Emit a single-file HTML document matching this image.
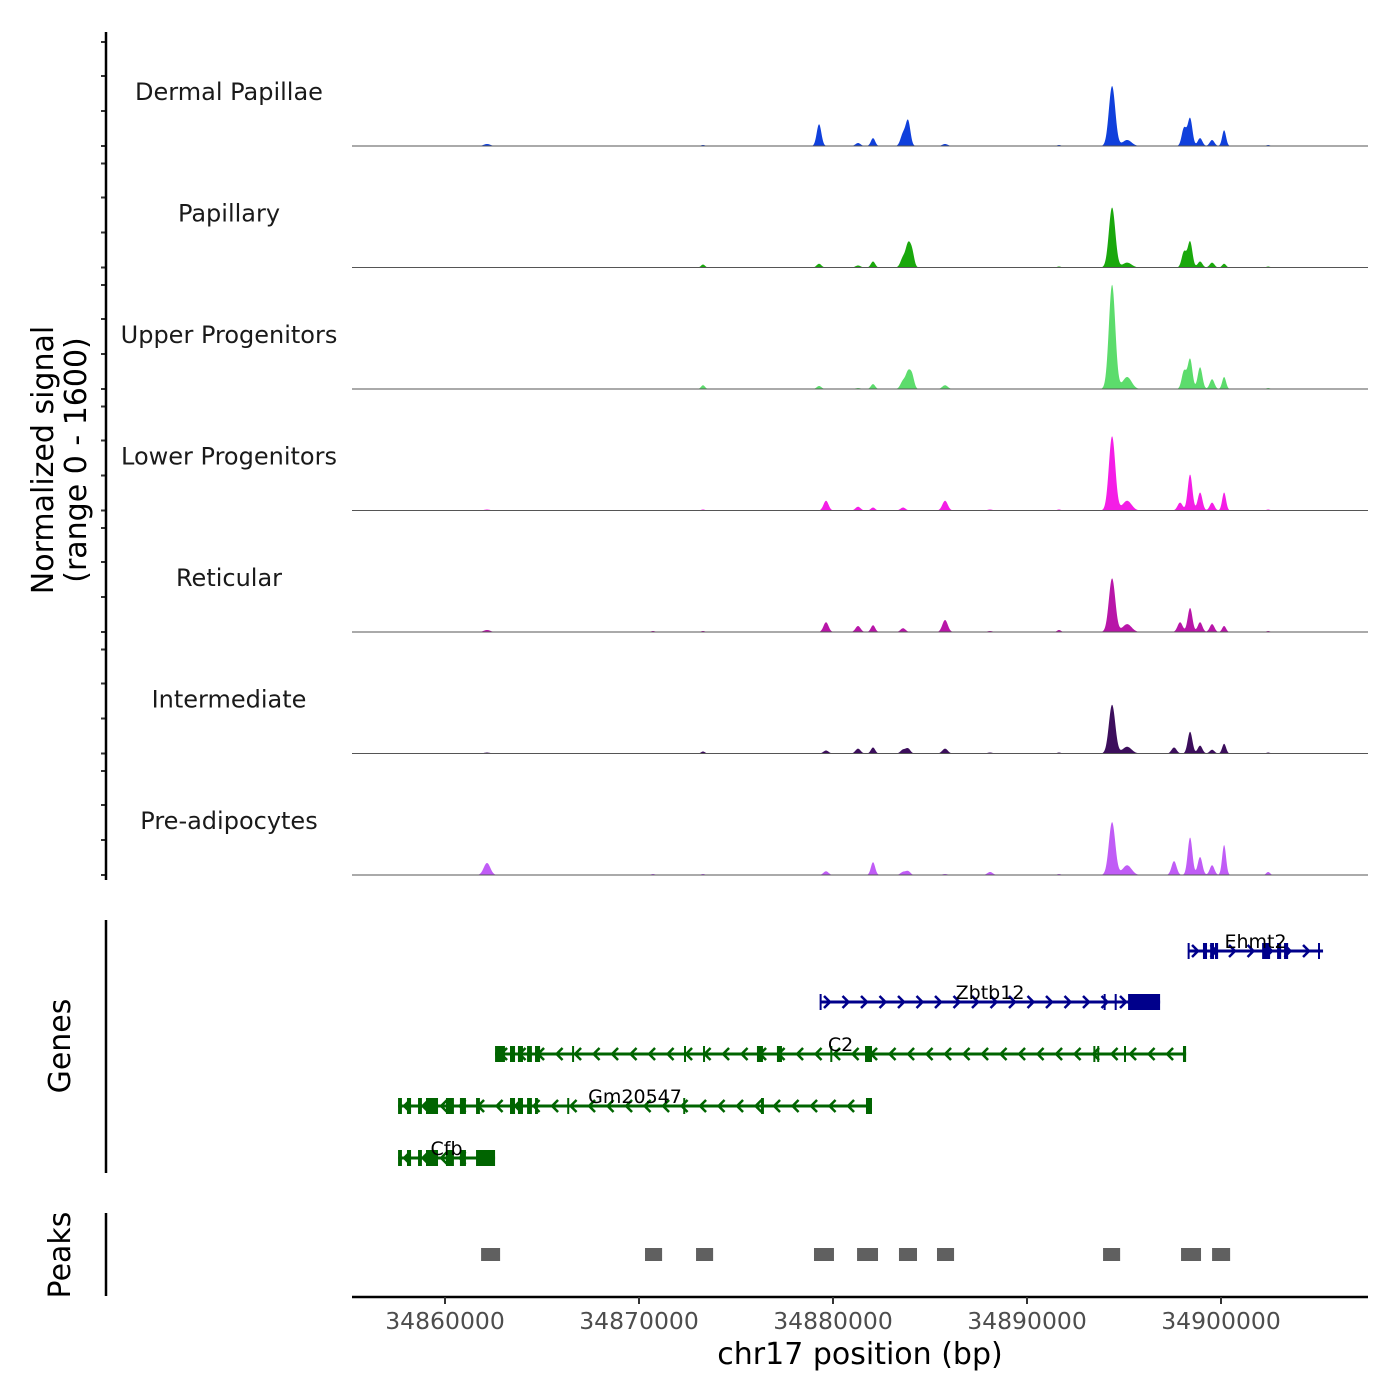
<!DOCTYPE html>
<html><head><meta charset="utf-8"><style>
body{margin:0;background:#fff;}
svg{display:block;font-family:"DejaVu Sans","Liberation Sans",sans-serif;}
</style></head><body>
<svg id="chart" width="1400" height="1400" viewBox="0 0 1400 1400" xmlns="http://www.w3.org/2000/svg">
<g id="tracks"></g>
<g id="genes"></g>
<g id="peaks"></g>
<g id="axes"></g>
<text transform="translate(53,460) rotate(-90)" text-anchor="middle" font-size="30" fill="#000">Normalized signal</text>
<text transform="translate(86,460) rotate(-90)" text-anchor="middle" font-size="30" fill="#000">(range 0 - 1600)</text>
<text transform="translate(70,1046) rotate(-90)" text-anchor="middle" font-size="30" fill="#000">Genes</text>
<text transform="translate(70,1255) rotate(-90)" text-anchor="middle" font-size="30" fill="#000">Peaks</text>
<text x="860" y="1364" text-anchor="middle" font-size="30" fill="#000">chr17 position (bp)</text>
</svg>
<script>
// ---- data ----
const trackNames = ["Dermal Papillae","Papillary","Upper Progenitors","Lower Progenitors","Reticular","Intermediate","Pre-adipocytes"];
const trackColors = ["#1040dc","#1aa80c","#5cdc6c","#f41ee6","#b816a8","#3c0e5c","#c05cf6"];
const peakCenters = [34862165,34870722,34873300,34879280,34879640,34881290,34882063,34883610,34883870,34884074,34885775,34888095,34891650,34894385,34895160,34897580,34897890,34898095,34898405,34898920,34899540,34900160,34902430];
const peakWidths  = [170,120,100,120,130,130,110,130,120,110,140,140,100,165,230,130,130,120,120,120,120,100,100];
const dermalPapillae   = [27,0,13,290,0,40,105,160,330,0,27,0,13,800,80,0,0,240,370,105,80,210,13];
const papillary        = [0,0,40,50,0,27,80,130,290,200,0,0,13,800,65,0,0,210,345,80,65,50,13];
const upperProgenitors = [0,0,50,40,0,13,65,105,210,170,50,0,0,1390,160,0,0,240,400,290,130,160,13];
const lowerProgenitors = [13,0,13,0,130,50,40,40,0,0,130,13,13,990,130,0,105,0,480,240,105,240,13];
const reticular        = [27,13,13,0,130,80,90,50,0,0,160,13,27,715,105,0,130,0,320,130,105,80,13];
const intermediate     = [13,0,27,0,40,65,80,50,65,0,65,13,13,650,90,80,0,0,290,105,50,130,13];
const preAdipocytes    = [160,13,13,0,50,0,170,40,50,0,13,40,13,705,130,185,0,0,500,240,130,400,40];
const trackValues = [dermalPapillae,papillary,upperProgenitors,lowerProgenitors,reticular,intermediate,preAdipocytes];
const xTicks = [34860000,34870000,34880000,34890000,34900000];
const xTickLabels = ["34860000","34870000","34880000","34890000","34900000"];
const peakStarts = [34861.86,34870.31,34872.94,34879.02,34881.24,34883.40,34885.36,34893.92,34897.94,34899.54];
const peakEnds   = [34862.84,34871.19,34873.82,34880.05,34882.32,34884.33,34886.24,34894.80,34898.97,34900.47];
const geneNames  = ["Ehmt2","Zbtb12","C2","Gm20547","Cfb"];
const geneStarts = [34898.30,34879.33,34862.58,34857.58,34857.58];
const geneEnds   = [34905.26,34896.86,34898.20,34882.01,34862.58];
const geneStrand = ["+","+","-","-","-"];
const geneColors = ["#00008b","#00008b","#006400","#006400","#006400"];
const ehmt2Exons   = [[34898.28,34898.34],[34899.07,34899.28],[34899.44,34899.64],[34899.69,34899.85],[34902.12,34902.53],[34902.89,34903.10],[34903.25,34903.46],[34905.0,34905.06]];
const zbtb12Exons  = [[34879.31,34879.36],[34893.95,34894.02],[34894.52,34894.58],[34895.21,34896.86]];
const c2Exons      = [[34862.58,34863.09],[34863.35,34863.61],[34863.76,34864.02],[34864.23,34864.48],[34864.64,34864.90],[34866.55,34866.65],[34872.32,34872.42],[34873.30,34873.40],[34876.08,34876.39],[34877.11,34877.37],[34879.86,34879.94],[34881.65,34882.01],[34893.42,34893.50],[34893.62,34893.70],[34895.00,34895.09],[34898.04,34898.20]];
const gm20547Exons = [[34857.58,34857.78],[34858.04,34858.25],[34858.61,34858.81],[34859.02,34859.64],[34860.05,34860.46],[34860.77,34861.08],[34861.60,34861.80],[34863.35,34863.61],[34863.76,34864.02],[34864.23,34864.48],[34864.64,34864.79],[34866.30,34866.38],[34872.28,34872.36],[34876.29,34876.44],[34881.70,34882.01]];
const cfbExons     = [[34857.58,34857.78],[34858.04,34858.25],[34858.61,34858.81],[34859.02,34859.64],[34860.05,34860.46],[34860.77,34861.08],[34861.60,34862.58]];
const geneExons = [ehmt2Exons,zbtb12Exons,c2Exons,gm20547Exons,cfbExons];

// ---- scales ----
const NS="http://www.w3.org/2000/svg";
const X0=352,X1=1368,BP0=34855206,BP1=34907577;
const xs = bp => X0+(bp-BP0)/(BP1-BP0)*(X1-X0);
const xk = kb => xs(kb*1000);
const baselines=[146,267.5,389,510.5,632,753.5,875];
const ys = (v,b) => b - v/1600*120;
function mk(tag,attrs,parent){const e=document.createElementNS(NS,tag);for(const k in attrs)e.setAttribute(k,attrs[k]);parent.appendChild(e);return e;}
const gT=document.getElementById('tracks'),gG=document.getElementById('genes'),gP=document.getElementById('peaks'),gA=document.getElementById('axes');

trackNames.forEach((name,t)=>{
  const b=baselines[t],vals=trackValues[t];
  let d=`M${X0},${b}`;
  for(let px=X0;px<=X1;px+=0.5){
    const bp=BP0+(px-X0)/(X1-X0)*(BP1-BP0);
    let v=0;
    for(let i=0;i<peakCenters.length;i++){const z=(bp-peakCenters[i])/peakWidths[i];v+=vals[i]*Math.exp(-0.5*z*z);}
    d+=`L${px},${ys(v,b).toFixed(2)}`;
  }
  d+=`L${X1},${b}Z`;
  const area=mk('path',{d,fill:trackColors[t]},gT);
  
  
  const base=mk('line',{x1:X0,x2:X1,y1:b,y2:b,stroke:'#555',"stroke-width":1},gT);
  
  
  const lab=mk('text',{x:229,y:b-46,"text-anchor":"middle","font-size":24,fill:'#1a1a1a'},gT);
  lab.textContent=name;
  
  
  [0,35,70,104].forEach(o=>{
    const tk=mk('line',{x1:101,x2:106,y1:b-o,y2:b-o,stroke:'#333',"stroke-width":2},gA);
    
    
  });
});

const geneY=[951,1002,1054,1106,1158];
geneNames.forEach((g,i)=>{
  const y=geneY[i],c=geneColors[i],x1=xk(geneStarts[i]),x2=xk(geneEnds[i]);
  const grp=mk('g',{},gG);
  
  
  mk('line',{x1,x2,y1:y,y2:y,stroke:c,"stroke-width":3},grp);
  const dir=geneStrand[i]==='+'?1:-1;
  for(let ax=x1+8;ax<x2-4;ax+=18.5){
    mk('path',{d:`M${ax-4*dir},${y-6}L${ax+2*dir},${y}L${ax-4*dir},${y+6}`,fill:'none',stroke:c,"stroke-width":2.5},grp);
  }
  geneExons[i].forEach(e=>{
    const ex1=xk(e[0]),ex2=xk(e[1]);
    mk('rect',{x:ex1,y:y-8,width:Math.max(ex2-ex1,2),height:16,fill:c},grp);
  });
  const lab=mk('text',{x:(x1+x2)/2,y:y-3,"text-anchor":"middle","font-size":19,fill:'#000'},gG);
  lab.textContent=g;
  
  
});

peakStarts.forEach((s,i)=>{
  const r=mk('rect',{x:xk(s),y:1248,width:xk(peakEnds[i])-xk(s),height:13,fill:'#606060'},gP);
  
  
});

[[32,880],[920,1173],[1213,1296]].forEach(a=>{
  const l=mk('line',{x1:106,x2:106,y1:a[0],y2:a[1],stroke:'#000',"stroke-width":2.5},gA);
  
  
});
const xl=mk('line',{x1:X0,x2:X1,y1:1297,y2:1297,stroke:'#000',"stroke-width":2.5},gA);


xTicks.forEach((t,i)=>{
  const tk=mk('line',{x1:xs(t),x2:xs(t),y1:1297,y2:1304,stroke:'#333',"stroke-width":2},gA);
  
  
  const tl=mk('text',{x:xs(t),y:1329,"text-anchor":"middle","font-size":23.5,fill:'#4d4d4d'},gA);
  tl.textContent=xTickLabels[i];
  
  
});
</script>
</body></html>
